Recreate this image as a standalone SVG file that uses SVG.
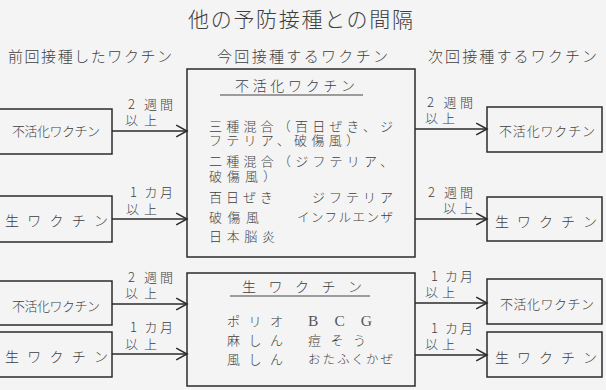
<svg xmlns="http://www.w3.org/2000/svg" width="606" height="390" viewBox="0 0 606 390">
<defs>
<style>
.bg{fill:#f4f4f4}
.box{fill:none;stroke:#2b2b2b;stroke-width:1.5}
.t{font-family:"Noto Sans CJK JP","Noto Sans",sans-serif;fill:#3f3f3f;font-weight:300}
.s14{font-size:14px}
.s13{font-size:13px}
.s12{font-size:12.5px}
.ln{stroke:#2b2b2b;stroke-width:1.4;fill:none}
.ul{stroke:#444;stroke-width:1.1}
</style>
<marker id="arr" markerUnits="userSpaceOnUse" markerWidth="14" markerHeight="14" viewBox="0 0 12 13" refX="11" refY="6.5" orient="auto">
<path d="M1,1 L11,6.5 L1,12" fill="none" stroke="#2b2b2b" stroke-width="1.4"/>
</marker>
</defs>
<rect class="bg" x="0" y="0" width="606" height="390"/>

<g id="headers">
<text class="t" x="188" y="27" font-size="21" textLength="225">他の予防接種との間隔</text>
<text class="t" x="8" y="62" font-size="15" textLength="164">前回接種したワクチン</text>
<text class="t" x="217" y="62" font-size="15" textLength="171">今回接種するワクチン</text>
<text class="t" x="428" y="62" font-size="15" textLength="169">次回接種するワクチン</text>
</g>

<g id="node-prev-inactivated-1">
<rect class="box" x="-5" y="109" width="117" height="45"/>
<text class="t s13" x="12" y="136" textLength="88">不活化ワクチン</text>
</g>
<g id="node-prev-live-1">
<rect class="box" x="-5" y="196" width="117" height="46"/>
<text class="t s14" x="5" y="226" textLength="103">生 ワ ク チ ン</text>
</g>

<g id="node-current-inactivated">
<rect class="box" x="187" y="69" width="228" height="188"/>
<text class="t s14" x="235" y="91" textLength="120">不活化ワクチン</text>
<line class="ul" x1="220" y1="95" x2="363" y2="95"/>
<text class="t s13" x="209" y="131" textLength="184">三種混合（百日ぜき、ジ</text>
<text class="t s13" x="209" y="145" textLength="150">フテリア、破傷風）</text>
<text class="t s13" x="209" y="166" textLength="184">二種混合（ジフテリア、</text>
<text class="t s13" x="209" y="181" textLength="67">破傷風）</text>
<text class="t s13" x="209" y="202" textLength="64">百日ぜき</text>
<text class="t s13" x="312" y="202" textLength="81">ジフテリア</text>
<text class="t s13" x="209" y="222" textLength="50">破傷風</text>
<text class="t s12" x="297" y="222" textLength="96">インフルエンザ</text>
<text class="t s13" x="209" y="241" textLength="66">日本脳炎</text>
</g>

<g id="node-next-inactivated-1">
<rect class="box" x="487" y="107" width="115" height="45"/>
<text class="t s13" x="499" y="136" textLength="96">不活化ワクチン</text>
</g>
<g id="node-next-live-1">
<rect class="box" x="487" y="197" width="115" height="44"/>
<text class="t s14" x="495" y="227" textLength="102">生 ワ ク チ ン</text>
</g>

<g id="node-prev-inactivated-2">
<rect class="box" x="-5" y="281" width="117" height="44"/>
<text class="t s13" x="12" y="311" textLength="88">不活化ワクチン</text>
</g>
<g id="node-prev-live-2">
<rect class="box" x="-5" y="332" width="117" height="45"/>
<text class="t s14" x="5" y="362" textLength="103">生 ワ ク チ ン</text>
</g>

<g id="node-current-live">
<rect class="box" x="187" y="273" width="228" height="113"/>
<text class="t s14" x="242" y="292" textLength="120">生 ワ ク チ ン</text>
<line class="ul" x1="230" y1="296" x2="370" y2="296"/>
<text class="t s13" x="227" y="326" textLength="56">ポ リ オ</text>
<text x="308" y="326" font-family="Liberation Serif,serif" font-size="15.5" fill="#555" textLength="64">B C G</text>
<text class="t s13" x="227" y="345" textLength="56">麻 し ん</text>
<text class="t s13" x="308" y="345" textLength="58">痘 そ う</text>
<text class="t s13" x="227" y="364" textLength="56">風 し ん</text>
<text class="t s12" x="308" y="364" textLength="85">おたふくかぜ</text>
</g>

<g id="node-next-inactivated-2">
<rect class="box" x="487" y="279" width="115" height="45"/>
<text class="t s13" x="500" y="309" textLength="94">不活化ワクチン</text>
</g>
<g id="node-next-live-2">
<rect class="box" x="487" y="332" width="115" height="45"/>
<text class="t s14" x="495" y="363" textLength="102">生 ワ ク チ ン</text>
</g>

<g id="connectors">
<line class="ln" x1="112" y1="131" x2="187" y2="131" marker-end="url(#arr)"/>
<text class="t s13" x="128" y="109" textLength="45">2 週間</text>
<text class="t s13" x="125" y="125" textLength="32">以上</text>

<line class="ln" x1="112" y1="219" x2="187" y2="219" marker-end="url(#arr)"/>
<text class="t s13" x="130" y="197" textLength="43">1 カ月</text>
<text class="t s13" x="126" y="214" textLength="31">以上</text>

<line class="ln" x1="415" y1="129" x2="487" y2="129" marker-end="url(#arr)"/>
<text class="t s13" x="427" y="107" textLength="46">2 週間</text>
<text class="t s13" x="425" y="123" textLength="30">以上</text>

<line class="ln" x1="415" y1="219" x2="487" y2="219" marker-end="url(#arr)"/>
<text class="t s13" x="428" y="197" textLength="45">2 週間</text>
<text class="t s13" x="443" y="213" textLength="30">以上</text>

<line class="ln" x1="112" y1="304" x2="187" y2="304" marker-end="url(#arr)"/>
<text class="t s13" x="128" y="282" textLength="45">2 週間</text>
<text class="t s13" x="125" y="298" textLength="32">以上</text>

<line class="ln" x1="112" y1="354" x2="187" y2="354" marker-end="url(#arr)"/>
<text class="t s13" x="130" y="332" textLength="43">1 カ月</text>
<text class="t s13" x="125" y="349" textLength="32">以上</text>

<line class="ln" x1="415" y1="303" x2="487" y2="303" marker-end="url(#arr)"/>
<text class="t s13" x="431" y="281" textLength="42">1 カ月</text>
<text class="t s13" x="425" y="297" textLength="30">以上</text>

<line class="ln" x1="415" y1="355" x2="487" y2="355" marker-end="url(#arr)"/>
<text class="t s13" x="431" y="333" textLength="42">1 カ月</text>
<text class="t s13" x="425" y="349" textLength="30">以上</text>
</g>
</svg>
